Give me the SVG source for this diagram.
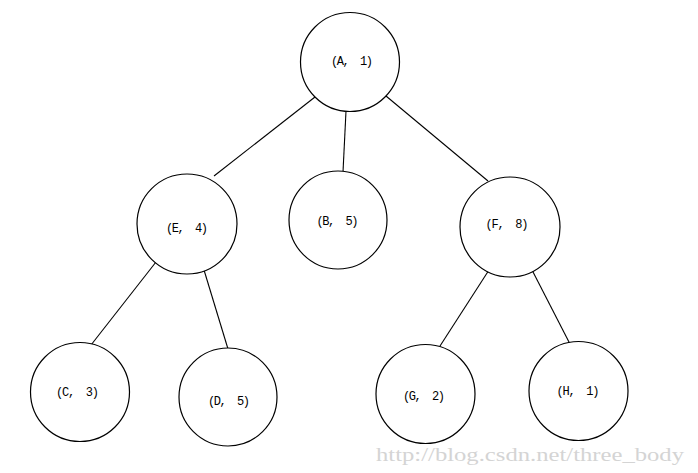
<svg xmlns="http://www.w3.org/2000/svg" width="698" height="473" viewBox="0 0 698 473">
<style>
.n circle{fill:#fff;stroke:#000;stroke-width:1.2}
.n text{font-family:"Liberation Mono","DejaVu Sans Mono",monospace;font-size:12px;fill:#000;text-anchor:middle;dominant-baseline:central;white-space:pre}
.e line{stroke:#000;stroke-width:1.1}
.wm{font-family:"Liberation Serif","DejaVu Serif",serif;font-size:19px;fill:#d4d4d4}
</style>
<rect width="698" height="473" fill="#fff"/>
<g class="e" id="edges">
<line x1="315" y1="97" x2="214" y2="176"/>
<line x1="346" y1="111" x2="343" y2="172"/>
<line x1="386" y1="96" x2="488" y2="181"/>
<line x1="156" y1="262" x2="91" y2="345"/>
<line x1="204" y1="270" x2="228" y2="349"/>
<line x1="489" y1="270" x2="440" y2="346"/>
<line x1="532" y1="270" x2="570" y2="344"/>
</g>
<g class="n" id="nA"><circle cx="350" cy="62" r="49.5"/><text x="352" y="62" textLength="42" xml:space="preserve">(A,  1)</text></g>
<g class="n" id="nE"><circle cx="187" cy="224" r="50"/><text x="187" y="229" textLength="42" xml:space="preserve">(E,  4)</text></g>
<g class="n" id="nB"><circle cx="338" cy="220" r="49"/><text x="337.5" y="221.5" textLength="42" xml:space="preserve">(B,  5)</text></g>
<g class="n" id="nF"><circle cx="510" cy="227" r="50"/><text x="507" y="225" textLength="43" xml:space="preserve">(F,  8)</text></g>
<g class="n" id="nC"><circle cx="80" cy="392" r="49.5"/><text x="77.5" y="393" textLength="43" xml:space="preserve">(C,  3)</text></g>
<g class="n" id="nD"><circle cx="228" cy="397" r="49"/><text x="229" y="401.5" textLength="42" xml:space="preserve">(D,  5)</text></g>
<g class="n" id="nG"><circle cx="425.5" cy="394" r="49.5"/><text x="424" y="396.5" textLength="42" xml:space="preserve">(G,  2)</text></g>
<g class="n" id="nH"><circle cx="578.5" cy="391" r="49.5"/><text x="578" y="391.5" textLength="43" xml:space="preserve">(H,  1)</text></g>
<text class="wm" x="376" y="461" textLength="308" lengthAdjust="spacingAndGlyphs">http://blog.csdn.net/three_body</text>
</svg>
